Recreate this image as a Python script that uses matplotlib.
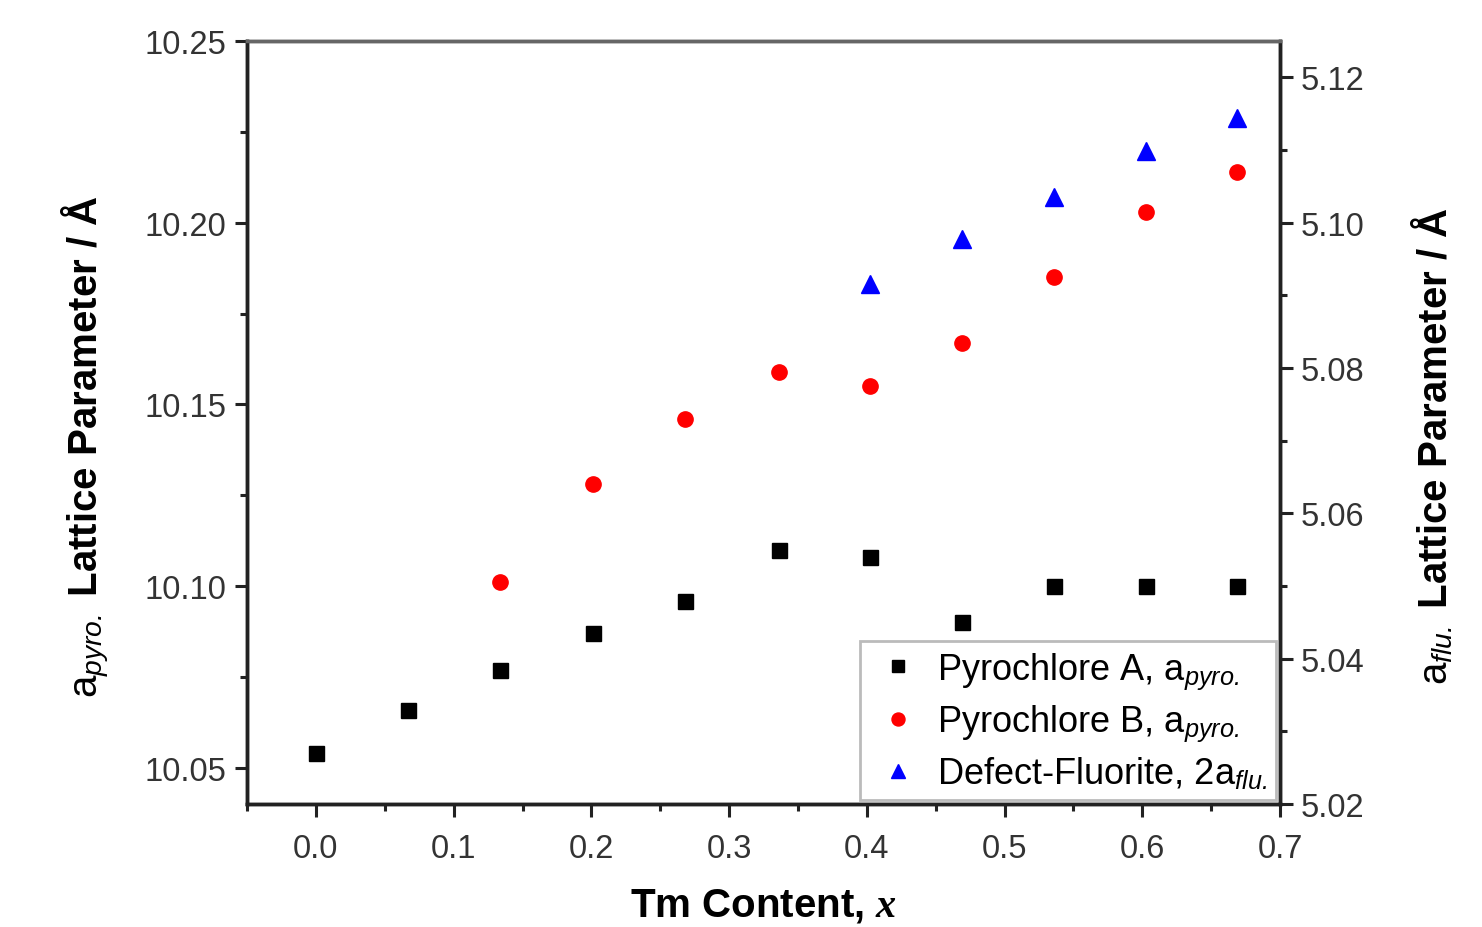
import matplotlib
matplotlib.use("Agg")
import matplotlib.pyplot as plt
from matplotlib.ticker import MultipleLocator, FormatStrFormatter

plt.rcParams['font.family'] = ['Liberation Sans', 'DejaVu Sans']
plt.rcParams['mathtext.fontset'] = 'custom'
plt.rcParams['mathtext.rm'] = 'Liberation Sans'
plt.rcParams['mathtext.sf'] = 'Liberation Sans:italic'
plt.rcParams['mathtext.it'] = 'Liberation Serif:italic'
plt.rcParams['mathtext.bf'] = 'Liberation Serif:bold:italic'

# Tm content x
tm_all = [0.0, 0.067, 0.134, 0.201, 0.268, 0.336, 0.402, 0.469, 0.536, 0.603, 0.669]
pyro_a = [10.054, 10.066, 10.077, 10.087, 10.096, 10.110, 10.108, 10.090, 10.100, 10.100, 10.100]

tm_b = [0.134, 0.201, 0.268, 0.336, 0.402, 0.469, 0.536, 0.603, 0.669]
pyro_b = [10.101, 10.128, 10.146, 10.159, 10.155, 10.167, 10.185, 10.203, 10.214]

tm_flu = [0.402, 0.469, 0.536, 0.603, 0.669]
a_flu = [5.0915, 5.0977, 5.1036, 5.1099, 5.1144]

fig = plt.figure(figsize=(14.82, 9.28), dpi=100)
ax = fig.add_axes([0.1667, 0.1325, 0.697, 0.8222])
ax2 = ax.twinx()

h1, = ax.plot(tm_all, pyro_a, ls='none', marker='s', ms=10.8, color='black',
              label=r'Pyrochlore A, $\mathrm{a}_{\mathsf{pyro.}}$')
h2, = ax.plot(tm_b, pyro_b, ls='none', marker='o', ms=11, color='red',
              label=r'Pyrochlore B, $\mathrm{a}_{\mathsf{pyro.}}$')
h3, = ax2.plot(tm_flu, a_flu, ls='none', marker='^', ms=12.5, color='blue',
               label=r'Defect-Fluorite, 2$\mathrm{a}_{\mathsf{flu.}}$')

ax.set_xlim(-0.05, 0.7)
ax.set_ylim(10.04, 10.25)
ax2.set_ylim(5.02, 5.125)

ax.xaxis.set_major_locator(MultipleLocator(0.1))
ax.xaxis.set_minor_locator(MultipleLocator(0.05))
ax.yaxis.set_major_locator(MultipleLocator(0.05))
ax.yaxis.set_minor_locator(MultipleLocator(0.025))
ax2.yaxis.set_major_locator(MultipleLocator(0.02))
ax2.yaxis.set_minor_locator(MultipleLocator(0.01))

ax.xaxis.set_major_formatter(FormatStrFormatter('%.1f'))
ax.yaxis.set_major_formatter(FormatStrFormatter('%.2f'))
ax2.yaxis.set_major_formatter(FormatStrFormatter('%.2f'))

tick_color = '#333333'
for a in (ax, ax2):
    a.tick_params(axis='both', which='major', direction='out', length=9, width=2.2,
                  labelsize=23.5, labelcolor=tick_color, color='#222222', pad=6)
    a.tick_params(axis='both', which='minor', direction='out', length=5, width=2.2,
                  color='#222222')
ax.tick_params(axis='x', pad=12)
ax.tick_params(top=False, which='both')
ax2.tick_params(top=False, which='both')

for a in (ax, ax2):
    for side in ('left', 'bottom', 'right'):
        a.spines[side].set_linewidth(2.5)
        a.spines[side].set_color('#222222')
    a.spines['top'].set_linewidth(2.5)
    a.spines['top'].set_color('#666666')

ax.set_xlabel(r'Tm Content, $\mathbf{x}$', fontsize=29, fontweight='bold', labelpad=16)
ax.set_ylabel(r'$\mathrm{a}_{\mathsf{pyro.}}$ Lattice Parameter / Å', fontsize=29,
              fontweight='bold')
ax.yaxis.set_label_coords(-0.131, 0.47)
ax2.set_ylabel(r'$\mathrm{a}_{\mathsf{flu.}}$ Lattice Parameter / Å', fontsize=29,
               fontweight='bold')
ax2.yaxis.set_label_coords(1.125, 0.47)

leg = ax2.legend(handles=[h1, h2, h3], loc='lower right', fontsize=26,
                 frameon=True, fancybox=False, edgecolor='#aaaaaa',
                 borderaxespad=0.1, handletextpad=0.3, labelspacing=0.33,
                 markerscale=0.85, handlelength=1.6, borderpad=0.25)
leg.get_frame().set_linewidth(2)

fig.savefig('out.png', dpi=100, facecolor='white')
